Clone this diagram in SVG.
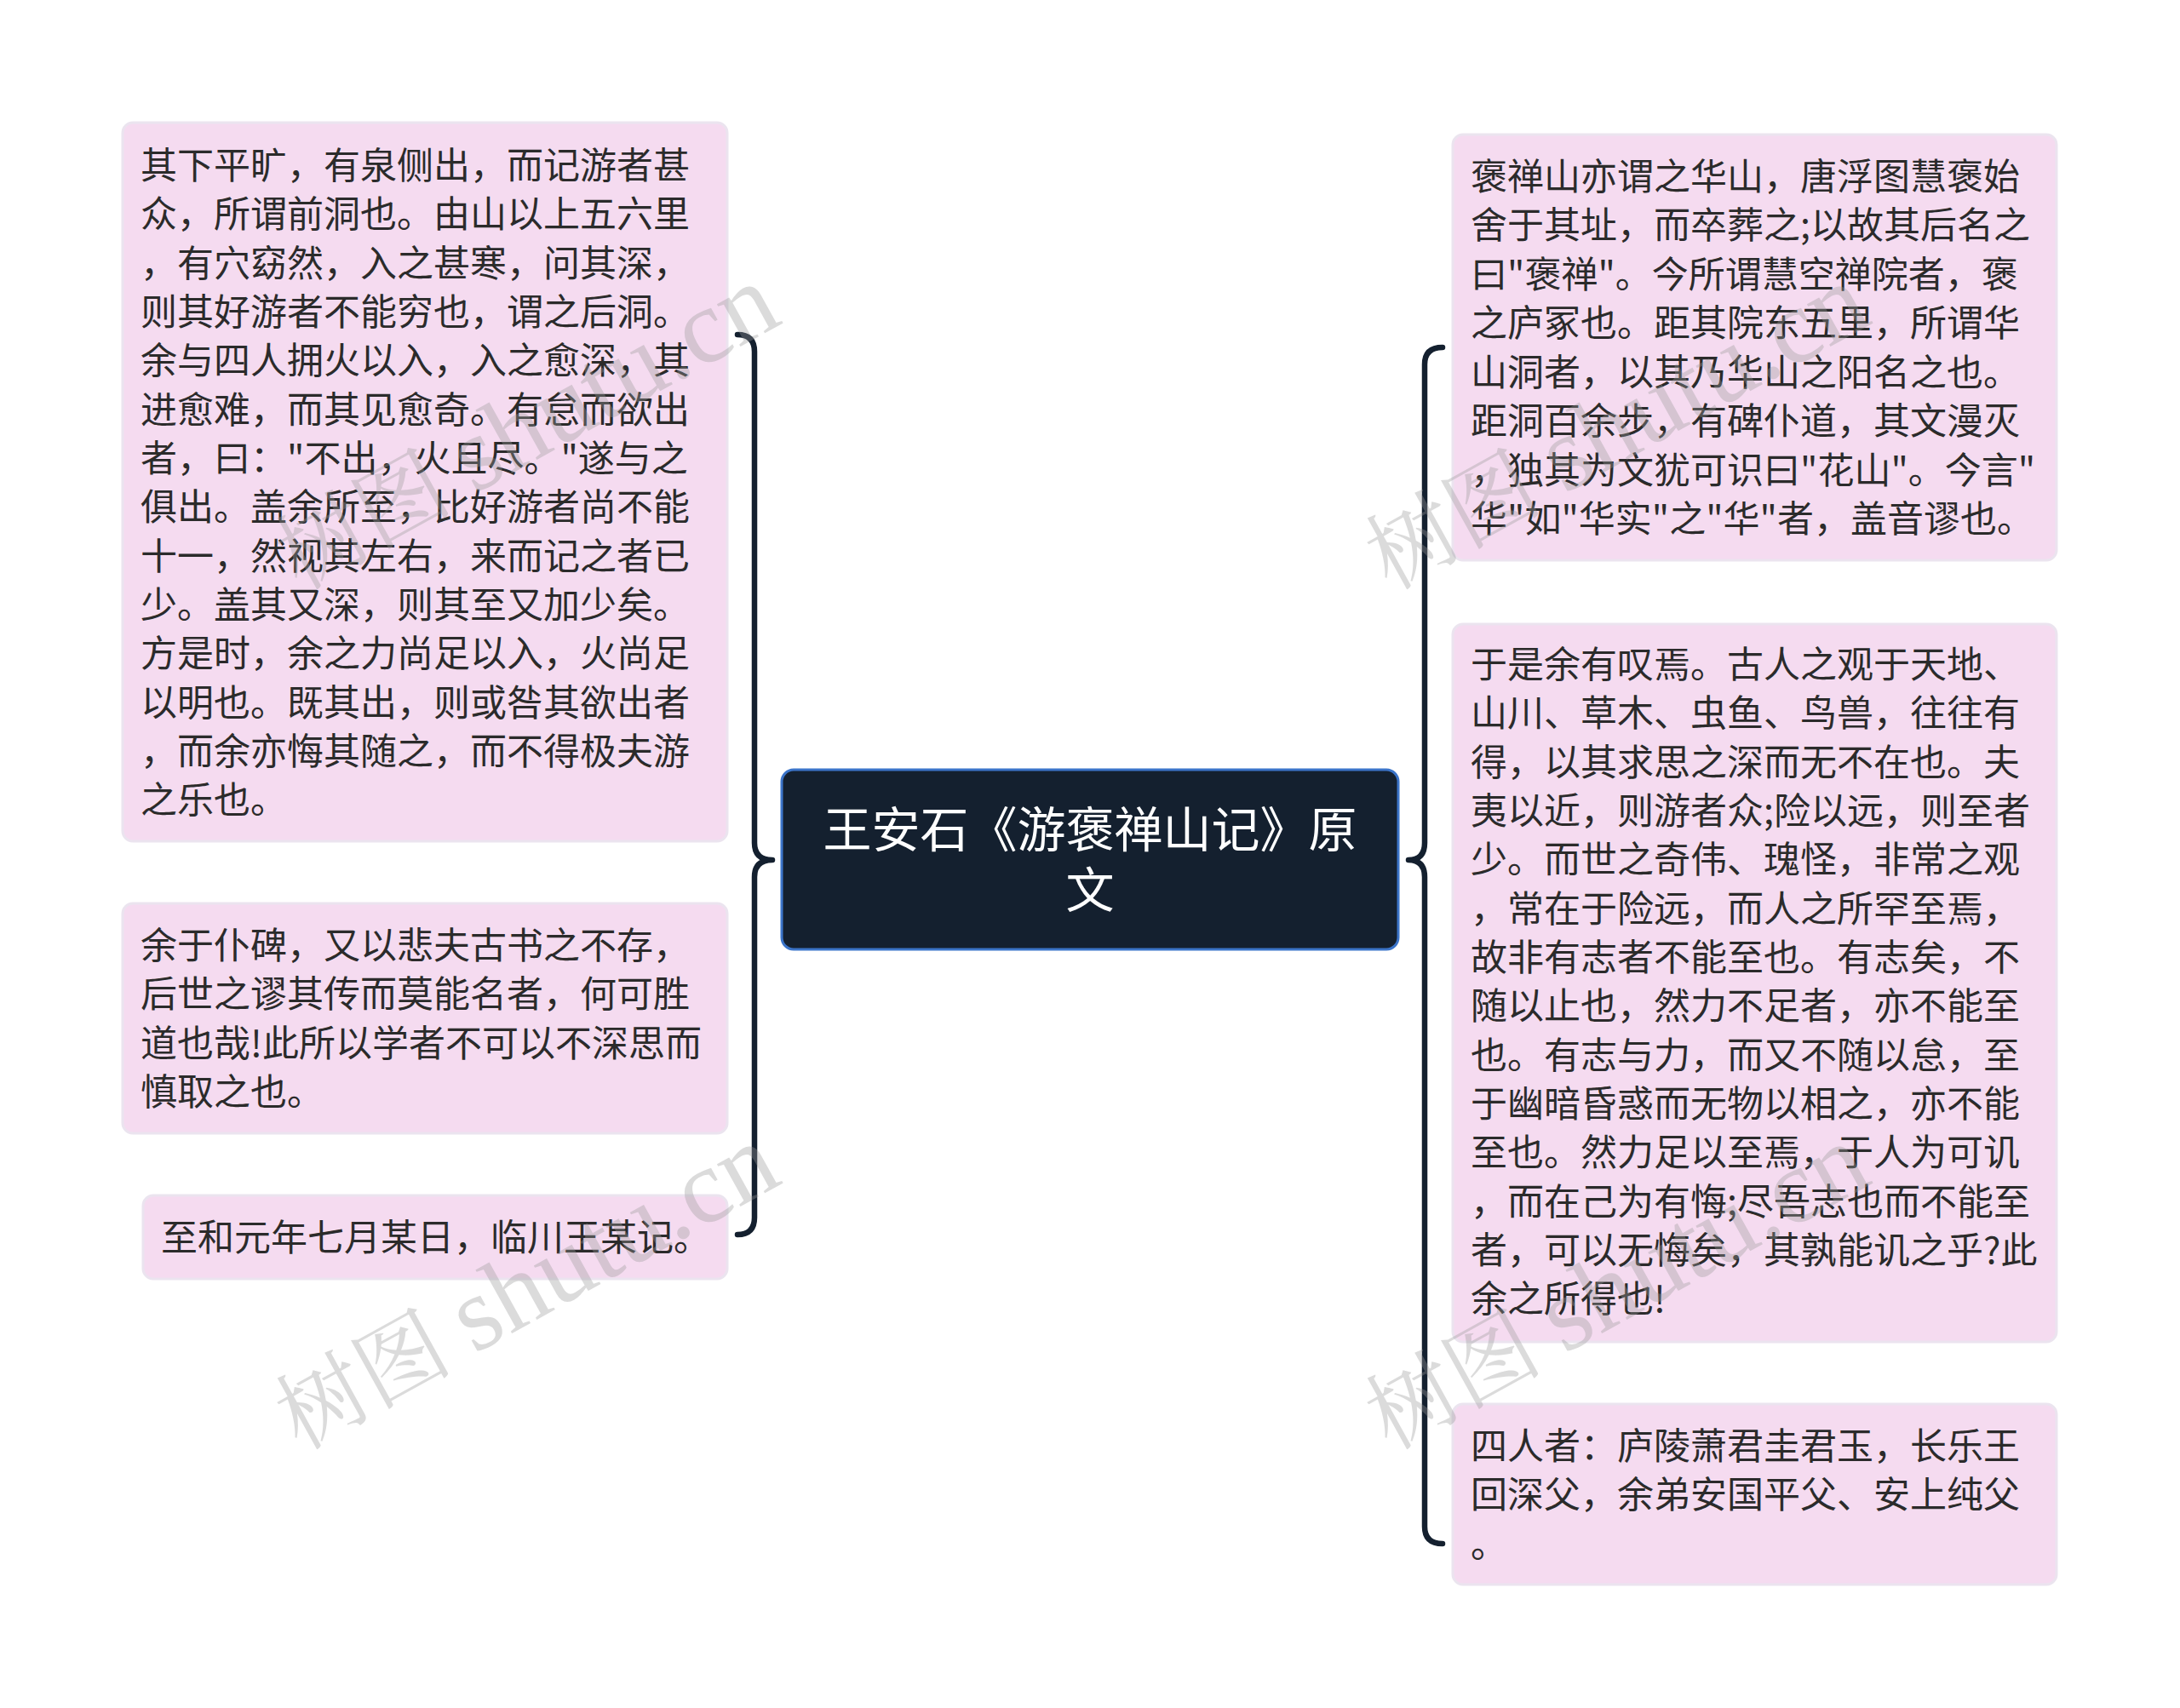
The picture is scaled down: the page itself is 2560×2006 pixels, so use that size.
<svg xmlns="http://www.w3.org/2000/svg" width="2560" height="2006" viewBox="0 0 2560 2006">
<style>
.node rect{fill:#f5dbf0;stroke:#ebe4ef;stroke-width:3}
.node text{font-family:"Noto Sans CJK SC","Noto Sans",sans-serif;font-size:43px;fill:#2b2b2b}
.root rect{fill:#14202f;stroke:#3b74c9;stroke-width:3}
.root text{font-family:"Noto Sans CJK SC","Noto Sans",sans-serif;font-size:57px;fill:#ffffff;text-anchor:middle}
.conn path{fill:none;stroke:#14202f;stroke-width:6.5;stroke-linecap:round;stroke-linejoin:round}
.wm{font-family:"Liberation Serif","Noto Serif CJK SC","Noto Sans CJK SC",serif;font-size:104px;fill:#9a9a9a;opacity:0.35}
.wm .lat{font-size:124px}
</style>
<rect width="2560" height="2006" fill="#ffffff"/>
<g id="connectors" class="conn">
<path d="M866,393 Q886,393 886,413 L886,990 Q886,1010 907,1010 Q886,1010 886,1030 L886,1430 Q886,1450 866,1450"/>
<path d="M1694,408 Q1673,408 1673,428 L1673,990 Q1673,1010 1654,1010 Q1673,1010 1673,1030 L1673,1793 Q1673,1813 1694,1813"/>
</g>
<g id="root" class="root">
<rect x="918" y="904" width="724" height="211" rx="14"/>
<text><tspan x="1280" y="995">王安石《游褒禅山记》原</tspan><tspan x="1280" y="1066">文</tspan></text>
</g>
<g id="left1" class="node">
<rect x="144" y="144" width="710" height="844" rx="12"/>
<text x="165" y="210">其下平旷，有泉侧出，而记游者甚</text>
<text x="165" y="267">众，所谓前洞也。由山以上五六里</text>
<text x="165" y="325">，有穴窈然，入之甚寒，问其深，</text>
<text x="165" y="382">则其好游者不能穷也，谓之后洞。</text>
<text x="165" y="439">余与四人拥火以入，入之愈深，其</text>
<text x="165" y="497">进愈难，而其见愈奇。有怠而欲出</text>
<text x="165" y="554">者，曰："不出，火且尽。"遂与之</text>
<text x="165" y="611">俱出。盖余所至，比好游者尚不能</text>
<text x="165" y="669">十一，然视其左右，来而记之者已</text>
<text x="165" y="726">少。盖其又深，则其至又加少矣。</text>
<text x="165" y="783">方是时，余之力尚足以入，火尚足</text>
<text x="165" y="841">以明也。既其出，则或咎其欲出者</text>
<text x="165" y="898">，而余亦悔其随之，而不得极夫游</text>
<text x="165" y="955">之乐也。</text>
</g>
<g id="left2" class="node">
<rect x="144" y="1061" width="710" height="270" rx="12"/>
<text x="165" y="1126">余于仆碑，又以悲夫古书之不存，</text>
<text x="165" y="1183">后世之谬其传而莫能名者，何可胜</text>
<text x="165" y="1241">道也哉!此所以学者不可以不深思而</text>
<text x="165" y="1298">慎取之也。</text>
</g>
<g id="left3" class="node">
<rect x="168" y="1404" width="686" height="98" rx="12"/>
<text x="189" y="1469">至和元年七月某日，临川王某记。</text>
</g>
<g id="right1" class="node">
<rect x="1706" y="158" width="709" height="500" rx="12"/>
<text x="1727" y="223">褒禅山亦谓之华山，唐浮图慧褒始</text>
<text x="1727" y="280">舍于其址，而卒葬之;以故其后名之</text>
<text x="1727" y="338">曰"褒禅"。今所谓慧空禅院者，褒</text>
<text x="1727" y="395">之庐冢也。距其院东五里，所谓华</text>
<text x="1727" y="453">山洞者，以其乃华山之阳名之也。</text>
<text x="1727" y="510">距洞百余步，有碑仆道，其文漫灭</text>
<text x="1727" y="568">，独其为文犹可识曰"花山"。今言"</text>
<text x="1727" y="625">华"如"华实"之"华"者，盖音谬也。</text>
</g>
<g id="right2" class="node">
<rect x="1706" y="733" width="709" height="843" rx="12"/>
<text x="1727" y="796">于是余有叹焉。古人之观于天地、</text>
<text x="1727" y="853">山川、草木、虫鱼、鸟兽，往往有</text>
<text x="1727" y="911">得，以其求思之深而无不在也。夫</text>
<text x="1727" y="968">夷以近，则游者众;险以远，则至者</text>
<text x="1727" y="1025">少。而世之奇伟、瑰怪，非常之观</text>
<text x="1727" y="1083">，常在于险远，而人之所罕至焉，</text>
<text x="1727" y="1140">故非有志者不能至也。有志矣，不</text>
<text x="1727" y="1197">随以止也，然力不足者，亦不能至</text>
<text x="1727" y="1255">也。有志与力，而又不随以怠，至</text>
<text x="1727" y="1312">于幽暗昏惑而无物以相之，亦不能</text>
<text x="1727" y="1369">至也。然力足以至焉，于人为可讥</text>
<text x="1727" y="1427">，而在己为有悔;尽吾志也而不能至</text>
<text x="1727" y="1484">者，可以无悔矣，其孰能讥之乎?此</text>
<text x="1727" y="1541">余之所得也!</text>
</g>
<g id="right3" class="node">
<rect x="1706" y="1649" width="709" height="212" rx="12"/>
<text x="1727" y="1714">四人者：庐陵萧君圭君玉，长乐王</text>
<text x="1727" y="1771">回深父，余弟安国平父、安上纯父</text>
<text x="1727" y="1829">。</text>
</g>
<g id="watermarks">
<text class="wm" transform="translate(352,694) rotate(-29)">树图 <tspan class="lat">shutu.cn</tspan></text>
<text class="wm" transform="translate(352,1704) rotate(-29)">树图 <tspan class="lat">shutu.cn</tspan></text>
<text class="wm" transform="translate(1632,694) rotate(-29)">树图 <tspan class="lat">shutu.cn</tspan></text>
<text class="wm" transform="translate(1632,1704) rotate(-29)">树图 <tspan class="lat">shutu.cn</tspan></text>
</g>
</svg>
